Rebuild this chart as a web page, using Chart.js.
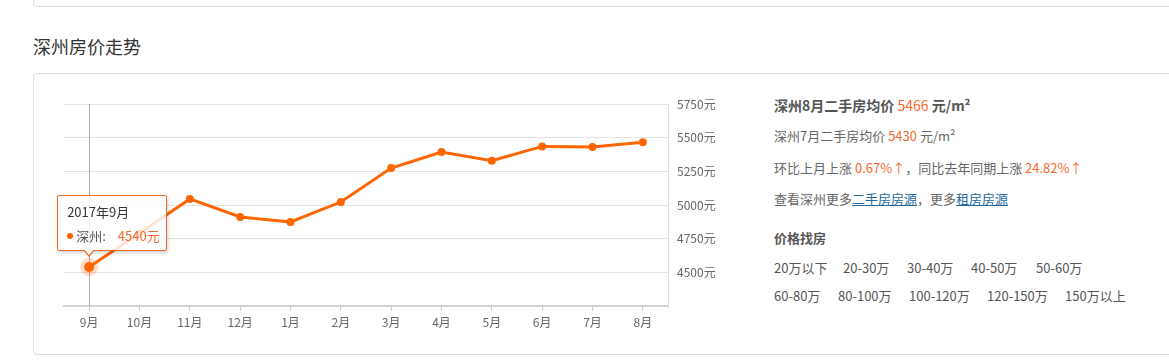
<!DOCTYPE html>
<html>
<head>
<meta charset="utf-8">
<title>深州房价走势</title>
<script src="https://cdn.jsdelivr.net/npm/chart.js@4.4.0/dist/chart.umd.min.js"></script>
<style>
    body { margin: 0; background: #fff; width: 1169px; height: 361px; overflow: hidden; position: relative;
           font-family: "Noto Sans CJK SC", "Microsoft YaHei", sans-serif; color: #666; }
    .box { position: absolute; left: 33px; width: 1200px; border: 1px solid #ddd; border-radius: 4px; box-sizing: border-box; }
    h2 { position: absolute; left: 33px; top: 33px; margin: 0; font-size: 18px; font-weight: normal; color: #333; line-height: 26px; }
    #chartWrap { position: absolute; left: 34px; top: 74px; width: 700px; height: 270px; }
    .info { position: absolute; left: 774px; font-size: 13px; line-height: 20px; white-space: nowrap; }
    .info b { color: #555; }
    .hl { color: #f5692c; }
    .info a { color: #1f6a9e; text-decoration: underline; }
    .price { position: absolute; font-size: 13px; line-height: 20px; color: #555; white-space: nowrap; }
    #tip { position: absolute; pointer-events: none; background: rgba(255,255,255,0.82); border: 1px solid #f06a25;
           box-shadow: 1px 2px 4px rgba(0,0,0,0.18); border-radius: 2px; padding: 6px 0 0 9px; box-sizing: border-box;
           width: 110px; height: 56px; font-size: 13px; color: #333; display: none; white-space: nowrap; }
    #tip .t { line-height: 20px; }
    #tip .r { line-height: 20px; margin-top: 4px; color: #555; }
    #tip .dot { display: inline-block; width: 6px; height: 6px; border-radius: 3px; background: #ff6600; margin-right: 3px; vertical-align: 2px; }
    #tip .v { color: #f5692c; margin-left: 12px; }
    #tip:after, #tip:before { content: ""; position: absolute; left: 25px; border: 6px solid transparent; }
    #tip:before { bottom: -13px; border-top: 7px solid #f06a25; }
    #tip:after { bottom: -11px; border-top: 7px solid #fff; }
</style>
</head>
<body>
<div class="box" style="top:-50px;height:57px"></div>
<h2>深州房价走势</h2>
<div class="box" style="top:73px;height:282px"></div>
<div id="chartWrap"><canvas id="priceChart"></canvas></div>
<div id="tip"></div>

<div class="info" style="top:95px;font-size:14px"><b>深州8月二手房均价 <span class="hl" style="font-weight:normal">5466</span> 元/m²</b></div>
<div class="info" style="top:126px">深州7月二手房均价 <span class="hl">5430</span> 元/m²</div>
<div class="info" style="top:158px">环比上月上涨 <span class="hl">0.67%↑</span>，同比去年同期上涨 <span class="hl">24.82%↑</span></div>
<div class="info" style="top:189px">查看深州更多<a>二手房房源</a>，更多<a>租房房源</a></div>
<div class="info" style="top:228px"><b>价格找房</b></div>

<div id="priceLinks"></div>

<script>
// 月份与均价（元/m²）
const meses = ['9月', '10月', '11月', '12月', '1月', '2月', '3月', '4月', '5月', '6月', '7月', '8月'];
const titulos = ['2017年9月', '2017年10月', '2017年11月', '2017年12月', '2018年1月', '2018年2月',
                 '2018年3月', '2018年4月', '2018年5月', '2018年6月', '2018年7月', '2018年8月'];
const precos = [4540, 4790, 5045, 4911, 4874, 5022, 5274, 5393, 5329, 5435, 5430, 5466];
const yTicks = [4250, 4500, 4750, 5000, 5250, 5500, 5750];

// 价格找房
const faixas1 = ['20万以下', '20-30万', '30-40万', '40-50万', '50-60万'];
const faixas2 = ['60-80万', '80-100万', '100-120万', '120-150万', '150万以上'];

document.addEventListener('DOMContentLoaded', function() {
    const links = document.getElementById('priceLinks');
    const x1 = [774, 843, 907, 971, 1036];
    const x2 = [774, 838, 909, 987, 1065];
    faixas1.forEach((f, i) => {
        links.insertAdjacentHTML('beforeend', `<span class="price" style="left:${x1[i]}px;top:258px">${f}</span>`);
    });
    faixas2.forEach((f, i) => {
        links.insertAdjacentHTML('beforeend', `<span class="price" style="left:${x2[i]}px;top:286px">${f}</span>`);
    });

    const laranja = '#ff6600';
    const fonte = { family: '"Noto Sans CJK SC", "Microsoft YaHei", sans-serif', size: 12 };

    // linha vertical do ponto ativo
    const crosshair = {
        id: 'crosshair',
        beforeDatasetsDraw(chart) {
            const act = chart.getActiveElements();
            if (!act.length) return;
            const x = act[0].element.x;
            const ctx = chart.ctx;
            ctx.save();
            ctx.strokeStyle = '#aaa';
            ctx.lineWidth = 1;
            ctx.beginPath();
            ctx.moveTo(Math.round(x) + 0.5, chart.chartArea.top);
            ctx.lineTo(Math.round(x) + 0.5, chart.chartArea.bottom);
            ctx.stroke();
            ctx.restore();
        }
    };

    const tipEl = document.getElementById('tip');
    const wrap = document.getElementById('chartWrap');

    const ctx = document.getElementById('priceChart').getContext('2d');
    const chart = new Chart(ctx, {
        type: 'line',
        data: {
            labels: meses,
            datasets: [{
                label: '深州',
                data: precos,
                borderColor: laranja,
                backgroundColor: laranja,
                borderWidth: 3,
                pointRadius: 4,
                pointBackgroundColor: laranja,
                pointBorderWidth: 0,
                pointHoverRadius: 5,
                pointHoverBackgroundColor: laranja,
                pointHoverBorderColor: 'rgba(255,102,0,0.22)',
                pointHoverBorderWidth: 8,
                tension: 0
            }]
        },
        options: {
            responsive: true,
            maintainAspectRatio: false,
            animation: false,
            events: [],
            layout: { padding: { left: 30, top: 30, right: 0, bottom: 0 } },
            plugins: {
                legend: { display: false },
                tooltip: {
                    enabled: false,
                    external: function(context) {
                        const t = context.tooltip;
                        if (t.opacity === 0 || !t.dataPoints || !t.dataPoints.length) {
                            tipEl.style.display = 'none';
                            return;
                        }
                        const dp = t.dataPoints[0];
                        tipEl.innerHTML = `<div class="t">${titulos[dp.dataIndex]}</div>` +
                            `<div class="r"><span class="dot"></span>${dp.dataset.label}:<span class="v">${dp.raw}元</span></div>`;
                        tipEl.style.display = 'block';
                        tipEl.style.left = (wrap.offsetLeft + t.caretX - 32) + 'px';
                        tipEl.style.top = (wrap.offsetTop + t.caretY - 16 - 56) + 'px';
                    }
                }
            },
            scales: {
                x: {
                    offset: true,
                    grid: { display: true, drawOnChartArea: false, offset: false, tickLength: 5, color: '#ccc' },
                    border: { display: true, color: '#d4d4d4', width: 2 },
                    ticks: { color: '#666', font: fonte, padding: 4, maxRotation: 0 },
                    afterFit: function(scale) { scale.height = 38; }
                },
                y: {
                    position: 'right',
                    min: yTicks[0],
                    max: yTicks[yTicks.length - 1],
                    afterBuildTicks: function(scale) { scale.ticks = yTicks.map(v => ({ value: v })); },
                    grid: { color: '#e3e3e3', drawTicks: false },
                    border: { display: true, color: '#ddd' },
                    ticks: {
                        color: '#666',
                        font: fonte,
                        padding: 9,
                        callback: function(value) { return value === yTicks[0] ? '' : value + '元'; }
                    },
                    afterFit: function(scale) { scale.width = 66; }
                }
            }
        },
        plugins: [crosshair]
    });

    const ativo = [{ datasetIndex: 0, index: 0 }];
    chart.setActiveElements(ativo);
    const p = chart.getDatasetMeta(0).data[0];
    chart.tooltip.setActiveElements(ativo, { x: p.x, y: p.y });
    chart.update();
});
</script>
</body>
</html>
